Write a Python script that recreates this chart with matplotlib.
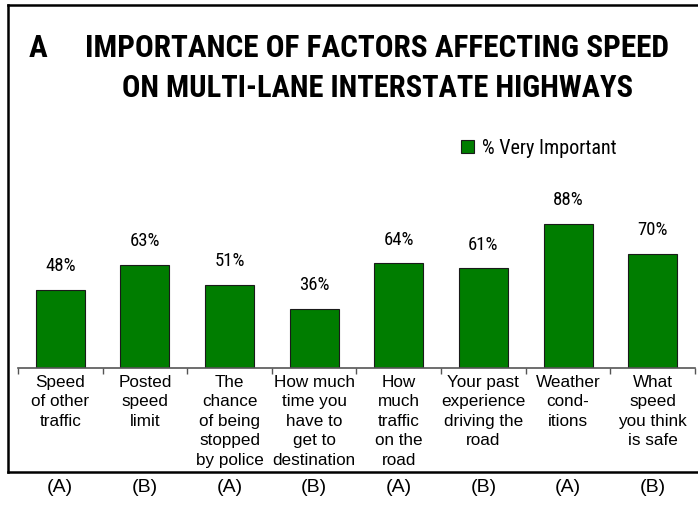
import matplotlib.pyplot as plt
from matplotlib.lines import Line2D

# data
factors = ["Speed\nof other\ntraffic", "Posted\nspeed\nlimit",
           "The\nchance\nof being\nstopped\nby police",
           "How much\ntime you\nhave to\nget to\ndestination",
           "How\nmuch\ntraffic\non the\nroad",
           "Your past\nexperience\ndriving the\nroad",
           "Weather\ncond-\nitions", "What\nspeed\nyou think\nis safe"]
very_important = [48, 63, 51, 36, 64, 61, 88, 70]
groups = ["(A)", "(B)", "(A)", "(B)", "(A)", "(B)", "(A)", "(B)"]

narrow = ["Liberation Sans Narrow", "Arial Narrow", "Roboto Condensed",
          "Archivo Narrow", "DejaVu Sans"]
plain = ["Liberation Sans", "DejaVu Sans"]
W, H = 698, 505

fig = plt.figure(figsize=(W / 100, H / 100), dpi=100)
ax = fig.add_axes([18 / W, 1 - 368 / H, 677 / W, 163.5 / H])

x = range(len(factors))
bars = ax.bar(x, very_important, width=0.58, color="#007d00",
              edgecolor="#1a1a1a", linewidth=0.8, label="% Very Important")
for xi, v in zip(x, very_important):
    ax.annotate(f"{v}%", (xi, v), xytext=(0, 13.5), textcoords="offset points",
                ha="center", va="baseline", fontsize=13.5, family=narrow)

ax.set_xlim(-0.5, len(factors) - 0.5)
ax.set_ylim(0, 100)
for s in ["left", "right", "top"]:
    ax.spines[s].set_visible(False)
ax.spines["bottom"].set_color("#555555")
ax.spines["bottom"].set_linewidth(1.2)
ax.set_yticks([])
ax.set_xticks([i - 0.5 for i in range(len(factors) + 1)])
ax.set_xticklabels([])
ax.tick_params(axis="x", length=4, color="#555555", width=1)

trans = ax.get_xaxis_transform()
for xi, lab, g in zip(x, factors, groups):
    ax.text(xi, -0.04, lab, transform=trans, ha="center", va="top",
            fontsize=12.3, family=plain, linespacing=1.38)
    fig.text((18 + 677 * (xi + 0.5) / len(factors)) / W, 1 - 488 / H, g,
             ha="center", va="center", fontsize=14, family=plain)

# titles
fig.text(38 / W, 1 - 48 / H, "A", ha="center", va="center", fontsize=22.5,
         fontweight="bold", family=narrow)
fig.text(377 / W, 1 - 48 / H, "IMPORTANCE OF FACTORS AFFECTING SPEED",
         ha="center", va="center", fontsize=22.5, fontweight="bold", family=narrow)
fig.text(377 / W, 1 - 88 / H, "ON MULTI-LANE INTERSTATE HIGHWAYS",
         ha="center", va="center", fontsize=22, fontweight="bold", family=narrow)

fig.legend(handles=[bars], loc="center left",
           bbox_to_anchor=(461 / W, 1 - 148 / H), frameon=False,
           handlelength=0.65, handleheight=0.65, handletextpad=0.4,
           borderpad=0, borderaxespad=0,
           prop={"family": narrow, "size": 14.5})

# outer frame (top, left, bottom)
fx0, fy_top, fy_bot = 8 / W, 1 - 5 / H, 1 - 472 / H
for xs, ys in [([fx0, 1], [fy_top, fy_top]), ([fx0, fx0], [fy_top, fy_bot]),
               ([fx0, 1], [fy_bot, fy_bot])]:
    fig.add_artist(Line2D(xs, ys, transform=fig.transFigure, color="black",
                          linewidth=1.8))

fig.savefig("out.png", dpi=100)
